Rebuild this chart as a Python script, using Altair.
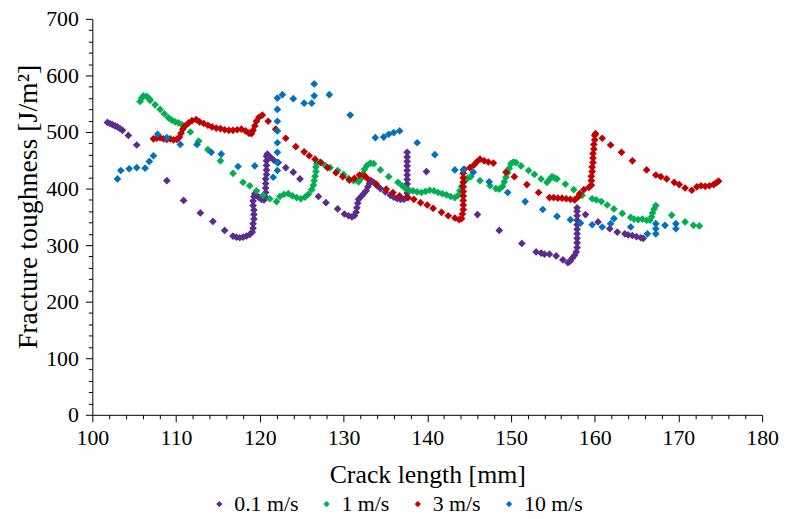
import altair as alt
import pandas as pd

# ---------------- data ----------------
series_names = ["0.1 m/s", "1 m/s", "3 m/s", "10 m/s"]
series_colors = ["#5B2C8C", "#00B050", "#C00000", "#0070C0"]

x_01 = [101.8, 102.1, 102.4, 102.7, 103.0, 103.3, 103.6, 104.3, 105.3, 108.9, 110.9, 112.9, 114.4, 115.8,
        116.8, 117.2, 117.6, 118.0, 118.4, 118.8, 119.1,
        119.2, 119.2, 119.3, 119.3, 119.3, 119.2, 119.2, 119.3, 119.4,
        119.6, 119.9, 120.2, 120.5,
        120.7, 120.7, 120.7, 120.7, 120.7, 120.8, 120.8, 120.8, 120.8, 120.8, 120.9,
        121.3, 121.7, 122.2, 123.1, 124.0, 124.8,
        127.0, 127.9, 129.3, 130.1, 130.6, 131.0, 131.3,
        131.5, 131.6, 131.7, 131.8, 132.1, 132.4, 132.7, 132.9, 133.1, 133.3,
        133.6, 134.0, 134.4, 135.0, 135.6, 136.0, 136.4, 136.8, 137.2, 137.5,
        137.6, 137.6, 137.6, 137.6, 137.6, 137.6, 137.6, 137.6, 137.6, 137.6,
        139.9, 146.0, 148.6, 151.3, 153.0, 153.6, 154.0, 154.6, 155.4, 156.2, 156.8, 157.1,
        157.3, 157.6, 157.8, 157.9, 157.9, 157.9, 157.9, 157.9, 157.9, 157.9, 157.9, 157.9, 157.9,
        158.9, 160.4, 161.8, 162.7, 163.6, 164.0, 164.5, 165.0, 165.5, 165.8]
y_01 = [517, 515, 513, 511, 509, 506, 503, 494, 477, 414, 379, 357, 342, 326,
        316, 314, 313, 314, 316, 319, 323,
        330, 338, 346, 354, 362, 370, 378, 386, 391,
        388, 384, 381, 380,
        385, 393, 401, 409, 417, 425, 433, 441, 449, 457, 461,
        455, 450, 446, 437, 429, 417,
        386, 375, 364, 355, 352, 350, 352,
        358, 366, 374, 381, 386, 391, 396, 403, 409, 414,
        411, 405, 400, 394, 388, 385, 382, 381, 381, 384,
        392, 400, 408, 416, 424, 432, 440, 448, 456, 464,
        430, 354, 326, 303, 288, 286, 284, 284, 281, 274, 269, 272,
        277, 282, 288, 296, 304, 312, 320, 328, 336, 344, 352, 360, 366,
        354, 341, 329, 323, 320, 318, 317, 315, 313, 312]

x_1 = [105.7, 105.9, 106.1, 106.5, 106.8, 106.9, 107.5, 108.1, 108.6,
       109.1, 109.5, 109.9, 110.3, 110.7, 111.7, 112.7, 113.8, 115.3, 116.8, 118.0, 118.8, 119.6,
       120.4, 121.2, 122.0, 122.4, 122.9, 123.4, 123.9, 124.4, 124.9, 125.4, 125.8,
       126.2, 126.4, 126.5, 126.6, 126.7, 126.7, 126.8, 127.2,
       127.8, 128.4, 129.3, 130.0, 130.6, 131.2, 131.8,
       132.1, 132.3, 132.5, 132.8, 133.2, 133.6, 134.4, 135.4, 136.5,
       137.0, 137.4, 137.8, 138.3, 138.8, 139.3, 139.8, 140.3, 140.8, 141.3, 141.8, 142.3, 142.8, 143.3,
       143.7, 143.9, 144.1, 144.4, 144.8, 145.2, 146.3, 147.5, 148.2, 148.6,
       149.0, 149.2, 149.4, 149.6, 149.8, 150.0, 150.3, 150.6, 151.2, 152.1, 152.8, 153.6,
       154.3, 154.6, 154.9, 155.2, 155.5, 156.5, 157.5, 158.5, 159.7, 160.2, 160.8, 161.5,
       162.3, 163.3, 164.3, 164.7, 165.2, 165.7, 166.2, 166.6,
       166.8, 166.9, 167.1, 167.3, 169.2, 170.8, 171.8, 172.5]
y_1 = [554, 560, 564, 563, 559, 556, 548, 540, 532,
       525, 521, 518, 516, 513, 500, 484, 469, 449, 427, 411, 405, 396,
       388, 382, 377, 386, 390, 391, 387, 384, 382, 385, 390,
       398, 406, 414, 422, 430, 438, 444, 447,
       441, 437, 432, 425, 418, 414, 412,
       418, 426, 434, 441, 445, 444, 433, 421, 411,
       405, 400, 397, 396, 394, 393, 395, 397, 396, 393, 391, 389, 386, 384,
       388, 396, 404, 412, 418, 421, 414, 405, 400, 399,
       404, 412, 420, 428, 436, 444, 447, 446, 440, 432, 425, 417,
       411, 416, 421, 419, 417, 408, 398, 388, 382, 380, 377, 371,
       364, 356, 349, 346, 345, 346, 344, 344,
       350, 357, 364, 370, 353, 341, 335, 334]

x_3 = [107.3, 107.7, 108.1, 108.5, 108.9, 109.3, 109.7, 110.1, 110.4, 110.6, 110.8, 111.1, 111.5,
       111.9, 112.4, 112.8, 113.3, 113.8, 114.3, 114.8, 115.3, 115.8, 116.3, 116.8, 117.3, 117.8,
       118.3, 118.7, 119.0, 119.2, 119.4, 119.6, 119.9, 120.3,
       121.0, 121.9, 123.1, 124.3, 125.3, 125.9, 126.6, 127.3, 128.1, 129.1, 129.9, 130.7,
       131.3, 131.9, 132.5, 132.9, 133.9, 135.1, 135.9, 136.7, 137.7, 138.4, 139.2, 140.0,
       140.7, 141.7, 142.5, 143.3, 143.8,
       144.1, 144.2, 144.3, 144.3, 144.3, 144.3, 144.3, 144.3, 144.3, 144.3, 144.3, 144.4,
       145.1, 145.6, 145.9, 146.3, 146.8, 147.3, 147.9, 149.4, 150.4, 151.9, 153.3,
       154.6, 155.1, 155.6, 156.1, 156.6, 157.1, 157.6, 158.0, 158.2, 158.7, 159.3,
       159.6, 159.6, 159.6, 159.7, 159.7, 159.8, 159.8, 159.8, 159.9, 159.9, 160.0, 160.0, 160.1,
       160.9, 161.9, 163.2, 164.5, 166.2, 167.3, 167.9, 168.6, 169.5, 170.1, 170.8, 171.6,
       172.2, 172.7, 173.2, 173.7, 174.2, 174.5, 174.8]
y_3 = [488, 489, 490, 488, 487, 488, 486, 487, 491, 498, 505, 511, 516,
       520, 522, 518, 515, 512, 509, 507, 506, 504, 503, 503, 504, 505,
       502, 498, 497, 503, 511, 519, 526, 530,
       519, 505, 489, 474, 465, 458, 452, 446, 437, 428, 421, 415,
       418, 424, 423, 417, 408, 399, 393, 387, 384, 381, 375, 371,
       365, 358, 352, 348, 345,
       347, 355, 363, 371, 379, 387, 395, 403, 411, 419, 427, 434,
       437, 442, 447, 452, 449, 447, 445, 429, 421, 407, 393,
       384, 384, 383, 383, 382, 381, 380, 385, 391, 398, 402,
       406, 414, 422, 430, 438, 446, 454, 462, 470, 478, 486, 494, 497,
       489, 477, 464, 449, 433, 424, 421, 417, 411, 407, 401, 397,
       403, 405, 404, 405, 407, 410, 413]

x_10 = [103.0, 103.4, 104.4, 105.3, 106.3, 106.8, 107.3, 107.8, 108.9, 110.5, 112.5, 114.2, 115.4,
        117.4, 119.4, 121.6, 122.1, 122.1, 122.1, 122.1, 122.1, 122.1, 122.1, 122.1,
        122.7, 124.0, 125.3, 126.2, 126.5, 126.5, 128.3, 130.8, 133.8, 134.8, 135.4, 136.0, 136.7,
        138.8, 140.9, 143.3, 144.3, 145.5, 147.4, 149.6, 151.7, 153.8, 155.5, 157.1, 158.3,
        159.7, 160.9, 161.9, 162.3, 164.3, 166.3, 167.3, 167.3, 167.3, 168.4, 169.7, 169.7]
y_10 = [417, 432, 435, 437, 436, 448, 458, 496, 490, 478, 478, 464, 461,
        439, 440, 420, 432, 446, 464, 481, 502, 519, 540, 560,
        566, 559, 551, 551, 564, 585, 566, 530, 490, 491, 496, 499, 502,
        481, 460, 433, 433, 429, 412, 393, 377, 363, 351, 345, 339,
        336, 332, 338, 347, 332, 320, 338, 329, 320, 335, 338, 329]

x_ticks = list(range(100, 181, 2))
y_ticks = list(range(0, 701, 20))

# ---------------- build table ----------------
rows = []
for name, xs, ys in [(series_names[0], x_01, y_01), (series_names[1], x_1, y_1),
                     (series_names[2], x_3, y_3), (series_names[3], x_10, y_10)]:
    for a, b in zip(xs, ys):
        rows.append({"x": a, "y": b, "series": name})
df = pd.DataFrame(rows)

FONT = "Liberation Serif"

chart = alt.Chart(df).mark_point(
    shape="diamond", filled=True, size=60, opacity=1
).encode(
    x=alt.X("x:Q",
            scale=alt.Scale(domain=[100, 180], nice=False, zero=False),
            axis=alt.Axis(values=x_ticks,
                          labelExpr="datum.value % 10 === 0 ? datum.label : ''",
                          tickSize={"condition": {"test": "datum.value % 10 === 0", "value": 7}, "value": 4},
                          title="Crack length [mm]",
                          labelFont=FONT, titleFont=FONT, titleFontSize=26,
                          labelPadding=6, titlePadding=13)),
    y=alt.Y("y:Q",
            scale=alt.Scale(domain=[0, 700], nice=False),
            axis=alt.Axis(values=y_ticks,
                          labelExpr="datum.value % 100 === 0 ? datum.label : ''",
                          tickSize={"condition": {"test": "datum.value % 100 === 0", "value": 7}, "value": 4},
                          title="Fracture toughness [J/m²]",
                          labelFont=FONT, titleFont=FONT, titleFontSize=28,
                          titleY=189,
                          labelPadding=7, titlePadding=3)),
    color=alt.Color("series:N",
                    scale=alt.Scale(domain=series_names, range=series_colors),
                    legend=alt.Legend(title=None, orient="none", direction="horizontal",
                                      legendX=117, legendY=478,
                                      symbolType="diamond", symbolSize=40,
                                      labelFont=FONT, labelFontSize=22, labelColor="black",
                                      labelOffset=4, columnPadding=17)),
).properties(
    width=675, height=399,
    autosize=alt.AutoSizeParams(type="none"),
    padding={"left": 85, "top": 9, "right": 18, "bottom": 100},
).configure(
    font=FONT
).configure_view(
    stroke=None
).configure_axis(
    grid=False, domainColor="black", tickColor="black", domainWidth=1, tickWidth=1,
    labelFont=FONT, labelFontSize=22, labelColor="black",
    titleFont=FONT, titleFontWeight="normal", titleColor="black",
    labelFlush=False, labelOverlap=False
).configure_legend(
    labelFont=FONT
)

chart.save("out.html", embed_options={"renderer": "svg", "actions": False})
